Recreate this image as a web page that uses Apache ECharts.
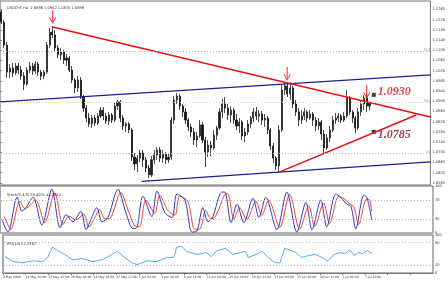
<!DOCTYPE html>
<html><head><meta charset="utf-8">
<script src="https://cdn.jsdelivr.net/npm/echarts@6/dist/echarts.min.js"></script>
<style>html,body{margin:0;padding:0;background:#fff}#c{width:448px;height:281px}</style>
</head><body><div id="c"></div>
<script>
// ---------- data ----------
const headerText = 'USDCHF,H4  1.0886 1.0902 1.0870 1.0898';
const stochText = 'Stoch(5,3,3) 28.4021 45.8812';
const rsiText = 'RSI(14) 51.2362';
const tickLabels = ['8 May 2009','12 May 20:00','15 May 12:00','20 May 04:00','22 May 20:00','27 May 12:00','1 Jun 04:00','3 Jun 20:00','8 Jun 12:00','11 Jun 04:00','15 Jun 20:00','18 Jun 12:00','23 Jun 04:00','25 Jun 20:00','30 Jun 12:00','3 Jul 04:00','7 Jul 20:00'];
const priceTicks = [1.0585,1.0625,1.0665,1.0705,1.0745,1.0785,1.0825,1.0865,1.0905,1.0945,1.0985,1.1025,1.1065,1.1105,1.1145,1.1185,1.1225,1.1265];
const stochTicks = [0,30,70,100];
const stochLevels = [70,30];
const rsiTicks = [0,20,80,100];
const rsiLevels = [80,20];
const slotCount = 152;
// candles: [open, close, low, high]
const candles = [
[1.1255,1.1215,1.1208,1.1263],[1.1215,1.1125,1.1114,1.1223],[1.1125,1.1019,1.0996,1.1137],[1.1019,1.1035,1.0996,1.1051],
[1.1035,1.1016,1.1000,1.1055],[1.1016,1.1043,1.1008,1.1055],[1.1043,1.1027,1.1012,1.1055],[1.1027,1.1004,1.0988,1.1043],
[1.1004,1.0972,1.0949,1.1019],[1.0972,1.1027,1.0965,1.1039],[1.1027,1.1043,1.1016,1.1059],[1.1043,1.1023,1.1008,1.1055],
[1.1023,1.1051,1.1012,1.1063],[1.1051,1.1019,1.1004,1.1059],[1.1019,1.1004,1.0988,1.1027],[1.1004,1.1019,1.0992,1.1027],
[1.1019,1.1125,1.1012,1.1137],[1.1125,1.1176,1.1114,1.1192],[1.1176,1.1165,1.1153,1.1200],[1.1165,1.1114,1.1098,1.1184],
[1.1114,1.1086,1.1074,1.1125],[1.1086,1.1098,1.1066,1.1114],[1.1098,1.1066,1.1051,1.1106],[1.1066,1.1074,1.1043,1.1090],
[1.1074,1.1027,1.1019,1.1082],[1.1027,1.0988,1.0976,1.1043],[1.0988,1.0957,1.0937,1.0996],[1.0957,1.0988,1.0941,1.1004],
[1.0988,1.0921,1.0914,1.1000],[1.0921,1.0878,1.0863,1.0929],[1.0878,1.0839,1.0823,1.0890],[1.0839,1.0816,1.0804,1.0859],
[1.0816,1.0839,1.0800,1.0851],[1.0839,1.0820,1.0808,1.0851],[1.0820,1.0847,1.0812,1.0859],[1.0847,1.0870,1.0839,1.0882],
[1.0870,1.0847,1.0831,1.0882],[1.0847,1.0827,1.0816,1.0859],[1.0827,1.0851,1.0812,1.0863],[1.0851,1.0831,1.0820,1.0859],
[1.0831,1.0886,1.0823,1.0898],[1.0886,1.0902,1.0870,1.0910],[1.0902,1.0839,1.0823,1.0910],[1.0839,1.0808,1.0792,1.0851],
[1.0808,1.0816,1.0784,1.0823],[1.0816,1.0792,1.0780,1.0823],[1.0792,1.0686,1.0671,1.0800],[1.0686,1.0659,1.0635,1.0702],
[1.0659,1.0682,1.0627,1.0694],[1.0682,1.0702,1.0667,1.0714],[1.0702,1.0675,1.0647,1.0714],[1.0675,1.0643,1.0627,1.0686],
[1.0643,1.0616,1.0604,1.0655],[1.0616,1.0675,1.0608,1.0690],[1.0675,1.0694,1.0659,1.0714],[1.0694,1.0714,1.0675,1.0725],
[1.0714,1.0682,1.0667,1.0725],[1.0682,1.0698,1.0663,1.0714],[1.0698,1.0675,1.0659,1.0706],[1.0675,1.0686,1.0663,1.0702],
[1.0686,1.0831,1.0675,1.0843],[1.0831,1.0910,1.0816,1.0925],[1.0910,1.0925,1.0894,1.0937],[1.0925,1.0886,1.0870,1.0933],
[1.0886,1.0863,1.0843,1.0894],[1.0863,1.0831,1.0816,1.0878],[1.0831,1.0804,1.0788,1.0839],[1.0804,1.0784,1.0765,1.0816],
[1.0784,1.0753,1.0733,1.0800],[1.0753,1.0769,1.0725,1.0784],[1.0769,1.0812,1.0761,1.0831],[1.0812,1.0753,1.0741,1.0823],
[1.0753,1.0706,1.0647,1.0765],[1.0706,1.0733,1.0686,1.0753],[1.0733,1.0722,1.0690,1.0749],[1.0722,1.0772,1.0714,1.0792],
[1.0772,1.0800,1.0753,1.0808],[1.0800,1.0863,1.0792,1.0878],[1.0863,1.0894,1.0839,1.0914],[1.0894,1.0878,1.0859,1.0921],
[1.0878,1.0851,1.0831,1.0894],[1.0851,1.0870,1.0820,1.0886],[1.0870,1.0831,1.0816,1.0878],[1.0831,1.0808,1.0792,1.0855],
[1.0808,1.0823,1.0780,1.0839],[1.0823,1.0769,1.0753,1.0831],[1.0769,1.0784,1.0745,1.0800],[1.0784,1.0816,1.0772,1.0831],
[1.0816,1.0839,1.0800,1.0847],[1.0839,1.0863,1.0823,1.0878],[1.0863,1.0847,1.0831,1.0882],[1.0847,1.0855,1.0823,1.0870],
[1.0855,1.0831,1.0812,1.0867],[1.0831,1.0839,1.0804,1.0855],[1.0839,1.0792,1.0776,1.0847],[1.0792,1.0729,1.0714,1.0800],
[1.0729,1.0682,1.0663,1.0741],[1.0682,1.0651,1.0635,1.0690],[1.0651,1.0792,1.0627,1.0812],[1.0792,1.0949,1.0784,1.0972],
[1.0949,1.0965,1.0929,1.0980],[1.0965,1.0933,1.0921,1.0976],[1.0933,1.0957,1.0910,1.0980],[1.0957,1.0894,1.0878,1.0965],
[1.0894,1.0863,1.0847,1.0910],[1.0863,1.0831,1.0808,1.0878],[1.0831,1.0847,1.0816,1.0870],[1.0847,1.0863,1.0831,1.0878],
[1.0863,1.0839,1.0823,1.0870],[1.0839,1.0855,1.0831,1.0870],[1.0855,1.0831,1.0808,1.0863],[1.0831,1.0808,1.0788,1.0843],
[1.0808,1.0823,1.0792,1.0839],[1.0823,1.0776,1.0753,1.0831],[1.0776,1.0722,1.0702,1.0792],[1.0722,1.0761,1.0714,1.0776],
[1.0761,1.0792,1.0745,1.0808],[1.0792,1.0831,1.0784,1.0847],[1.0831,1.0839,1.0816,1.0859],[1.0839,1.0847,1.0823,1.0859],
[1.0847,1.0831,1.0820,1.0855],[1.0831,1.0847,1.0823,1.0863],[1.0847,1.0918,1.0839,1.0949],[1.0918,1.0863,1.0851,1.0925],
[1.0863,1.0839,1.0820,1.0870],[1.0839,1.0800,1.0780,1.0847],[1.0800,1.0863,1.0792,1.0878],[1.0863,1.0894,1.0847,1.0906],
[1.0894,1.0918,1.0870,1.0929],[1.0918,1.0886,1.0863,1.0933],[1.0886,1.0898,1.0870,1.0902]
];
// stochastic main / signal: [slot, value]
const stochMain = [[0.7,28],[2.8,2],[6.0,76],[7.7,46],[9.1,54],[11.6,76],[14.7,17],[18.2,93],[21.1,11],[23.2,39],[25.6,24],[28.4,46],[30.2,7],[32.3,35],[34.0,54],[35.8,24],[37.9,33],[41.4,93],[44.2,43],[46.7,9],[48.1,12],[50.2,78],[53.3,35],[55.1,89],[57.9,43],[60.4,33],[62.1,83],[64.9,70],[67.4,2],[69.1,4],[71.2,54],[73.0,24],[74.7,35],[77.9,87],[78.9,87],[81.1,22],[83.2,61],[85.6,22],[88.8,74],[90.9,33],[93.3,76],[97.2,7],[100.7,87],[104.2,2],[107.4,65],[109.5,7],[112.6,70],[114.7,13],[117.9,83],[119.6,76],[121.8,61],[123.2,57],[124.9,9],[127.7,80],[128.8,76],[130.5,28]];
const stochSignal = [[1.5,35],[3.8,8],[7.0,68],[8.7,52],[10.1,56],[12.6,70],[15.7,22],[19.2,86],[22.1,18],[24.2,36],[26.6,28],[29.4,40],[31.2,12],[33.3,33],[35.0,50],[36.8,30],[38.9,33],[42.4,86],[45.2,45],[47.7,14],[49.0,14],[51.2,70],[54.3,42],[56.1,80],[58.9,48],[61.4,38],[63.1,78],[65.9,68],[68.4,8],[70.1,8],[72.2,48],[74.0,30],[75.7,36],[78.9,82],[79.9,84],[82.1,30],[84.2,54],[86.6,28],[89.8,68],[91.9,38],[94.3,70],[98.2,12],[101.7,82],[105.2,8],[108.4,58],[110.5,14],[113.6,64],[115.7,20],[118.9,78],[120.6,74],[122.8,62],[124.2,56],[125.9,18],[128.7,72],[129.8,70],[130.5,46]];
const rsiLine = [[0.7,43],[3.5,30],[7.0,27],[10.5,32],[14.0,30],[15.8,41],[17.5,68],[19.3,59],[21.8,49],[24.6,35],[28.0,38],[31.6,30],[35.1,35],[38.6,49],[40.4,57],[42.1,46],[45.6,27],[47.4,22],[50.9,32],[54.4,30],[57.9,41],[60.4,41],[61.4,68],[63.2,70],[64.9,57],[68.4,49],[70.2,51],[71.9,54],[73.7,43],[75.4,57],[78.6,65],[81.1,49],[84.2,54],[85.6,57],[86.7,41],[89.5,49],[91.6,57],[93.7,41],[96.1,27],[97.9,27],[99.6,65],[101.8,59],[103.5,54],[105.6,41],[108.1,46],[110.5,49],[112.6,41],[114.7,32],[117.2,49],[119.3,54],[121.1,51],[122.5,62],[124.2,46],[125.6,54],[127.0,51],[128.8,59],[130.5,51]];
const fibLevels = [1.1286,1.1110,1.0945,1.0859,1.0733];
const fibLabels = ['100.0','61.8','38.2','','0.0'];
const trendRedDown = [[18.6,1.1196],[152,1.0843]];
const trendRedUp = [[98.6,1.0627],[147,1.0851]];
const channelTop = [[0,1.0902],[152,1.1008]];
const channelBottom = [[50,1.0591],[152,1.0667]];
const arrowTips = [[18.6,1.1208],[101.4,1.0984],[129.5,1.0914]];
const levelMarks = [[132,1.0930],[132,1.0785]];
const levelTexts = ['1.0930','1.0785'];
const levelColors = ['#e3141c','#7d1018'];

// ---------- chart ----------
const slots = Array.from({length: slotCount}, (_, i) => i);
const lastClose = candles[candles.length - 1][1];
const small = {fontSize: 3.6, color: '#333', fontFamily: 'DejaVu Sans'};
const tiny = {fontSize: 3.0, color: '#333', fontFamily: 'DejaVu Sans'};
const chart = echarts.init(document.getElementById('c'), null, {renderer: 'canvas'});
const arrowPath = 'path://M4.2,0H5.8V11L9,6.5L10,7.5L5,13.5L0,7.5L1,6.5L4.2,11Z';

chart.setOption({
  animation: false,
  backgroundColor: '#fff',
  title: [
    {text: headerText, left: 2, top: 1, textStyle: Object.assign({fontWeight: 'normal'}, small)},
    {text: stochText, left: 2, top: 188, textStyle: Object.assign({fontWeight: 'normal'}, small)},
    {text: rsiText, left: 2, top: 237, textStyle: Object.assign({fontWeight: 'normal'}, small)}
  ],
  grid: [
    {left: 0, right: 15, top: 1, height: 184, show: true, borderColor: '#777', borderWidth: 1, containLabel: false},
    {left: 0, right: 15, top: 186, height: 47, show: true, borderColor: '#666', borderWidth: 1, containLabel: false},
    {left: 0, right: 15, top: 235, height: 38, show: true, borderColor: '#666', borderWidth: 1, containLabel: false}
  ],
  xAxis: [
    {type: 'category', gridIndex: 0, data: slots, boundaryGap: true, axisLine: {show: false}, axisTick: {show: false}, axisLabel: {show: false}, splitLine: {show: false}},
    {type: 'value', gridIndex: 0, min: 0, max: slotCount, show: false},
    {type: 'value', gridIndex: 1, min: 0, max: slotCount, show: false},
    {type: 'value', gridIndex: 2, min: 0, max: slotCount, interval: 8,
      axisLine: {show: true, lineStyle: {color: '#777'}},
      axisTick: {show: true, length: 2, lineStyle: {color: '#777'}},
      splitLine: {show: false},
      axisLabel: Object.assign({margin: 3, align: 'left', showMaxLabel: false, hideOverlap: false,
        formatter: v => { const k = Math.round(v / 8); return (Math.abs(v - 8 * k) < 1e-6 && k < tickLabels.length) ? tickLabels[k] : ''; }}, tiny)}
  ],
  yAxis: [
    {type: 'value', gridIndex: 0, position: 'right', min: 1.05765, max: 1.12978,
      axisLine: {show: true, lineStyle: {color: '#aaa', width: 2}},
      axisTick: {show: true, length: 2, customValues: priceTicks, lineStyle: {color: '#888'}},
      axisLabel: Object.assign({margin: 2, customValues: priceTicks, formatter: v => v.toFixed(4)}, small),
      splitLine: {show: false}},
    {type: 'value', gridIndex: 1, position: 'right', min: 0, max: 100,
      axisLine: {show: true, lineStyle: {color: '#aaa', width: 2}},
      axisTick: {show: true, length: 2, customValues: stochTicks},
      axisLabel: Object.assign({margin: 2, customValues: stochTicks}, small),
      splitLine: {show: false}},
    {type: 'value', gridIndex: 2, position: 'right', min: 0, max: 100,
      axisLine: {show: true, lineStyle: {color: '#aaa', width: 2}},
      axisTick: {show: true, length: 2, customValues: rsiTicks},
      axisLabel: Object.assign({margin: 2, customValues: rsiTicks}, small),
      splitLine: {show: false}}
  ],
  series: [
    {type: 'candlestick', xAxisIndex: 0, yAxisIndex: 0, data: candles, barWidth: 1.6,
      itemStyle: {color: '#222', color0: '#111', borderColor: '#222', borderColor0: '#111', borderWidth: 0.8},
      markLine: {silent: true, symbol: 'none', animation: false,
        data: fibLevels.map((v, i) => ({yAxis: v,
          lineStyle: {type: [1, 2], color: i === 3 ? '#b9d98a' : '#b0b0b0', width: 1},
          label: {show: !!fibLabels[i], position: 'insideEndTop', formatter: fibLabels[i], fontSize: 3.4, color: '#999', distance: 0}}))
          .concat([{yAxis: lastClose, lineStyle: {opacity: 0},
            label: {show: true, position: 'end', distance: 1, formatter: lastClose.toFixed(4), backgroundColor: '#000', color: '#fff', fontSize: 3.6, padding: [1, 1]}}])
      }},
    {type: 'line', xAxisIndex: 1, yAxisIndex: 0, data: channelTop, symbol: 'none', silent: true, lineStyle: {color: '#1d1d96', width: 1.3}},
    {type: 'line', xAxisIndex: 1, yAxisIndex: 0, data: channelBottom, symbol: 'none', silent: true, lineStyle: {color: '#1d1d96', width: 1.3}},
    {type: 'line', xAxisIndex: 1, yAxisIndex: 0, data: trendRedDown, symbol: 'none', silent: true, lineStyle: {color: '#ee1111', width: 1.6}},
    {type: 'line', xAxisIndex: 1, yAxisIndex: 0, data: trendRedUp, symbol: 'none', silent: true, lineStyle: {color: '#ee1111', width: 1.6}},
    {type: 'scatter', xAxisIndex: 1, yAxisIndex: 0, data: arrowTips, symbol: arrowPath, symbolSize: [7, 14], symbolOffset: [0, -7], silent: true, itemStyle: {color: '#e81212'}},
    {type: 'scatter', xAxisIndex: 1, yAxisIndex: 0, symbol: 'rect', symbolSize: 4, silent: true, itemStyle: {color: '#111'},
      data: levelMarks.map((p, i) => ({value: p,
        label: {show: true, position: 'right', distance: 2, offset: [0, i === 0 ? -3 : 3], formatter: levelTexts[i], color: levelColors[i],
          fontFamily: 'Liberation Serif', fontStyle: 'italic', fontWeight: 'bold', fontSize: 12}}))},
    {type: 'line', xAxisIndex: 2, yAxisIndex: 1, data: stochSignal, symbol: 'none', smooth: 0.3, silent: true, lineStyle: {color: '#e5482a', width: 1},
      markLine: {silent: true, symbol: 'none', label: {show: false}, lineStyle: {type: [1, 2], color: '#b8b8b8', width: 1}, data: stochLevels.map(v => ({yAxis: v}))}},
    {type: 'line', xAxisIndex: 2, yAxisIndex: 1, data: stochMain, symbol: 'none', smooth: 0.3, silent: true, lineStyle: {color: '#3434c4', width: 1}},
    {type: 'line', xAxisIndex: 3, yAxisIndex: 2, data: rsiLine, symbol: 'none', silent: true, lineStyle: {color: '#52aef0', width: 1},
      markLine: {silent: true, symbol: 'none', label: {show: false}, lineStyle: {type: [1, 2], color: '#b8b8b8', width: 1}, data: rsiLevels.map(v => ({yAxis: v}))}}
  ]
});
</script></body></html>
